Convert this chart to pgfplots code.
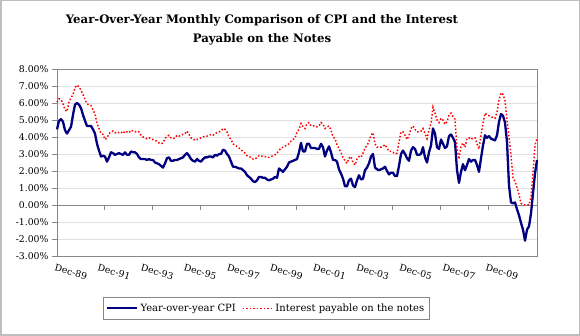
\documentclass[border=0pt]{standalone}
\usepackage{fontspec}
\setmainfont{DejaVu Serif}
\usepackage{pgfplots}
\usepackage{pgfplotstable}
\pgfplotsset{compat=1.18}
\definecolor{cpiblue}{RGB}{0,0,128}
\definecolor{framegray}{RGB}{134,134,134}
\definecolor{gridgray}{RGB}{225,225,225}
\definecolor{outergray}{RGB}{190,190,190}

\pgfplotstableread{
m cpi int
0 4.45 6.05
1 4.95 6.25
2 5.05 6.2
3 4.9 5.95
4 4.4 5.6
5 4.2 5.5
6 4.4 6.05
7 4.6 6.3
8 5.3 6.5
9 5.9 6.9
10 6.0 7.05
11 5.9 6.95
12 5.7 6.75
13 5.3 6.5
14 4.95 6.2
15 4.65 5.95
16 4.65 5.9
17 4.65 5.85
18 4.45 5.6
19 4.2 5.35
20 3.6 4.8
21 3.2 4.5
22 2.85 4.2
23 2.9 4.15
24 2.85 3.85
25 2.55 3.95
26 2.8 4.2
27 3.1 4.3
28 3.05 4.35
29 2.95 4.25
30 3.0 4.3
31 3.05 4.25
32 3.0 4.3
33 2.95 4.2
34 3.1 4.35
35 2.95 4.3
36 2.95 4.25
37 3.15 4.4
38 3.1 4.35
39 3.1 4.3
40 3.0 4.35
41 2.8 4.3
42 2.7 4.1
43 2.7 4.0
44 2.7 3.95
45 2.65 3.9
46 2.7 3.95
47 2.65 3.9
48 2.65 3.85
49 2.5 3.8
50 2.45 3.75
51 2.4 3.65
52 2.3 3.6
53 2.2 3.65
54 2.45 3.9
55 2.75 4.05
56 2.8 4.1
57 2.6 3.95
58 2.6 3.9
59 2.65 3.95
60 2.65 4.1
61 2.7 4.05
62 2.75 4.1
63 2.8 4.15
64 2.95 4.2
65 3.05 4.35
66 2.9 4.15
67 2.7 3.95
68 2.6 3.9
69 2.55 3.8
70 2.7 3.85
71 2.6 3.9
72 2.55 3.95
73 2.7 4.0
74 2.8 4.05
75 2.8 4.05
76 2.85 4.1
77 2.85 4.15
78 2.8 4.1
79 2.95 4.2
80 2.9 4.25
81 3.0 4.3
82 3.0 4.35
83 3.25 4.5
84 3.2 4.45
85 3.0 4.3
86 2.85 4.0
87 2.55 3.85
88 2.25 3.6
89 2.25 3.5
90 2.2 3.45
91 2.15 3.35
92 2.15 3.25
93 2.05 3.15
94 1.95 3.05
95 1.75 2.9
96 1.65 2.85
97 1.55 2.8
98 1.4 2.7
99 1.35 2.7
100 1.45 2.8
101 1.65 2.9
102 1.65 2.9
103 1.6 2.85
104 1.6 2.85
105 1.5 2.8
106 1.45 2.8
107 1.5 2.85
108 1.55 2.9
109 1.65 2.95
110 1.6 3.05
111 2.15 3.2
112 2.05 3.35
113 1.95 3.4
114 2.1 3.45
115 2.25 3.55
116 2.5 3.6
117 2.55 3.75
118 2.6 3.85
119 2.65 3.95
120 2.7 4.3
121 3.1 4.45
122 3.65 4.8
123 3.15 4.6
124 3.15 4.5
125 3.6 4.8
126 3.6 4.85
127 3.35 4.65
128 3.35 4.65
129 3.35 4.65
130 3.3 4.6
131 3.3 4.65
132 3.6 4.85
133 3.4 4.75
134 2.85 4.5
135 3.2 4.6
136 3.45 4.65
137 3.1 4.4
138 2.65 4.0
139 2.65 3.9
140 2.55 3.55
141 2.1 3.3
142 1.85 3.1
143 1.55 2.8
144 1.1 2.6
145 1.1 2.45
146 1.45 2.75
147 1.55 2.85
148 1.15 2.5
149 1.05 2.35
150 1.45 2.7
151 1.75 2.85
152 1.5 2.8
153 1.55 3.05
154 2.05 3.35
155 2.2 3.5
156 2.45 3.75
157 2.85 4.1
158 3.0 4.25
159 2.2 3.6
160 2.1 3.4
161 2.05 3.4
162 2.1 3.4
163 2.15 3.45
164 2.25 3.55
165 2.0 3.35
166 1.8 3.15
167 1.9 3.15
168 1.9 3.1
169 1.7 3.0
170 1.7 3.05
171 2.3 3.7
172 3.0 4.3
173 3.2 4.3
174 3.0 4.1
175 2.75 3.85
176 2.6 4.1
177 3.2 4.5
178 3.4 4.65
179 3.3 4.45
180 2.95 4.3
181 2.95 4.3
182 3.0 4.35
183 3.4 4.5
184 2.8 4.2
185 2.5 3.9
186 3.1 4.4
187 3.5 4.8
188 4.5 5.75
189 4.2 5.4
190 3.4 5.0
191 3.3 4.85
192 3.85 5.1
193 3.6 5.0
194 3.35 4.75
195 3.45 4.9
196 4.05 5.3
197 4.15 5.4
198 3.95 5.2
199 3.7 5.05
200 2.05 3.3
201 1.3 2.7
202 1.95 3.45
203 2.4 3.65
204 2.05 3.4
205 2.35 3.9
206 2.7 3.95
207 2.55 3.85
208 2.65 3.95
209 2.65 3.95
210 2.35 3.6
211 1.95 3.3
212 2.75 4.1
213 3.5 4.8
214 4.1 5.4
215 3.95 5.3
216 4.05 5.25
217 3.9 5.2
218 3.85 5.15
219 3.8 5.1
220 4.1 5.45
221 4.9 6.2
222 5.35 6.6
223 5.25 6.5
224 4.85 6.15
225 3.7 5.0
226 1.15 4.0
227 0.15 2.9
228 0.1 1.6
229 0.15 1.4
230 -0.25 1.05
231 -0.6 0.6
232 -1.05 0.1
233 -1.45 0.0
234 -2.1 0.0
235 -1.45 0.0
236 -1.25 0.0
237 -0.5 0.45
238 0.7 1.9
239 1.85 3.5
240 2.65 3.95
}\cpidata

\begin{document}
\begin{tikzpicture}
\useasboundingbox (0pt,0pt) rectangle (580pt,336pt);
\fill[white] (0pt,0pt) rectangle (580pt,336pt);
\draw[outergray, line width=1.5pt] (0.75pt,0.75pt) rectangle (579.25pt,335.25pt);
\node[font=\bfseries\fontsize{11.7}{18.5}\selectfont, align=center, anchor=north, inner sep=0pt]
  at (262pt,321.5pt) {Year-Over-Year Monthly Comparison of CPI and the Interest\\Payable on the Notes};
\begin{axis}[
  at={(57pt,80pt)}, anchor=south west,
  scale only axis, width=480pt, height=187pt,
  xmin=0, xmax=240, ymin=-3, ymax=8,
  axis line style={framegray, line width=0.8pt},
  ytick={-3,-2,-1,0,1,2,3,4,5,6,7,8},
  yticklabels={-3.00\%,-2.00\%,-1.00\%,0.00\%,1.00\%,2.00\%,3.00\%,4.00\%,5.00\%,6.00\%,7.00\%,8.00\%},
  ytick pos=left,
  tick align=outside,
  major tick length=5pt,
  ytick style={framegray, line width=0.6pt},
  ymajorgrids, grid style={gridgray, line width=0.6pt},
  yticklabel style={font=\fontsize{9.3}{11}\selectfont, xshift=0pt},
  xtick={7,28.55,50.1,71.65,93.2,114.75,136.3,157.85,179.4,200.95,222.5},
  xticklabels={Dec-89,Dec-91,Dec-93,Dec-95,Dec-97,Dec-99,Dec-01,Dec-03,Dec-05,Dec-07,Dec-09},
  xtick style={draw=none},
  xticklabel style={font=\fontsize{9.3}{11}\selectfont, anchor=center, yshift=-11pt, rotate=-15},
  legend style={at={(0.0958,-0.219)}, anchor=north west, draw=framegray, line width=0.6pt,
    font=\fontsize{10}{12}\selectfont, inner xsep=3pt, inner ysep=4.5pt,
    /tikz/every even column/.append style={column sep=4pt}},
  legend columns=2,
  legend cell align=left,
  legend image code/.code={\draw[#1] (0pt,0pt) -- (30pt,0pt);},
  clip=false,
]
\draw[framegray, line width=0.8pt] (axis cs:0,0) -- (axis cs:240,0);
\draw[framegray, line width=0.6pt] (axis cs:23.5,0) -- ++(0pt,-5pt);
\draw[framegray, line width=0.6pt] (axis cs:47.5,0) -- ++(0pt,-5pt);
\draw[framegray, line width=0.6pt] (axis cs:71.5,0) -- ++(0pt,-5pt);
\draw[framegray, line width=0.6pt] (axis cs:95.5,0) -- ++(0pt,-5pt);
\draw[framegray, line width=0.6pt] (axis cs:119.5,0) -- ++(0pt,-5pt);
\draw[framegray, line width=0.6pt] (axis cs:143.5,0) -- ++(0pt,-5pt);
\draw[framegray, line width=0.6pt] (axis cs:167.5,0) -- ++(0pt,-5pt);
\draw[framegray, line width=0.6pt] (axis cs:191.5,0) -- ++(0pt,-5pt);
\draw[framegray, line width=0.6pt] (axis cs:215.5,0) -- ++(0pt,-5pt);
\addplot[cpiblue, line width=2.3pt, line join=round] table[x=m, y=cpi] {\cpidata};
\addlegendentry{Year-over-year CPI}
\addplot[red, line width=1.5pt, dash pattern=on 1.5pt off 2pt] table[x=m, y=int] {\cpidata};
\addlegendentry{Interest payable on the notes}
\end{axis}
\end{tikzpicture}
\end{document}
